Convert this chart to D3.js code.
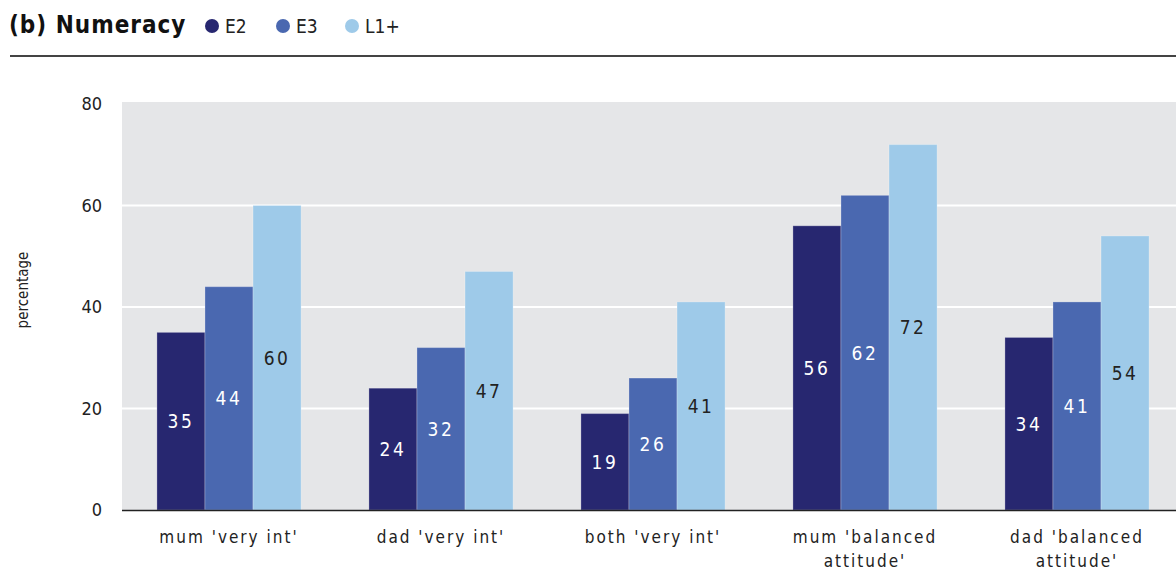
<!DOCTYPE html>
<html>
<head>
<meta charset="utf-8">
<script src="https://cdn.jsdelivr.net/npm/d3@7"></script>
<style>
  body { margin: 0; background: #fff; }
  svg text { font-family: "DejaVu Sans Condensed", "DejaVu Sans", sans-serif; }
</style>
</head>
<body>
<svg id="chart" width="1176" height="572"></svg>
<script>
// data
const categories = [
  ["mum 'very int'"],
  ["dad 'very int'"],
  ["both 'very int'"],
  ["mum 'balanced", "attitude'"],
  ["dad 'balanced", "attitude'"]
];
const seriesNames = ["E2", "E3", "L1+"];
const e2Values = [35, 24, 19, 56, 34];
const e3Values = [44, 32, 26, 62, 41];
const l1Values = [60, 47, 41, 72, 54];
const yTicks = [0, 20, 40, 60, 80];

const colors = {
  E2: "#272770",
  E3: "#4a68b0",
  "L1+": "#9ecae9",
  plotBg: "#e5e6e8",
  grid: "#ffffff",
  text: "#222222"
};

const svg = d3.select("#chart");
const width = 1176;
const plotLeft = 122, plotTop = 102, baseY = 510;

const series = [e2Values, e3Values, l1Values];
const rows = categories.map((c, i) => ({
  key: i,
  label: c,
  values: seriesNames.map((s, j) => ({ series: s, value: series[j][i] }))
}));

const x0 = d3.scaleBand()
  .domain(rows.map(d => d.key))
  .range([123, 1183])
  .paddingInner(0.32)
  .paddingOuter(0.16);

const x1 = d3.scaleBand()
  .domain(seriesNames)
  .range([0, x0.bandwidth()]);

const y = d3.scaleLinear().domain([0, 80]).range([baseY, 104]);

// plot background
svg.append("rect")
  .attr("x", plotLeft).attr("y", plotTop)
  .attr("width", width - plotLeft).attr("height", baseY - plotTop)
  .attr("fill", colors.plotBg);

// gridlines
svg.append("g").selectAll("line")
  .data(yTicks.filter(t => t > 0 && t < 80))
  .enter().append("line")
  .attr("x1", plotLeft).attr("x2", width)
  .attr("y1", d => y(d)).attr("y2", d => y(d))
  .attr("stroke", colors.grid).attr("stroke-width", 2);

// y axis labels
const yAxis = d3.axisLeft(y).tickValues(yTicks).tickSize(0).tickPadding(0);
const yg = svg.append("g").attr("transform", "translate(102,0)").call(yAxis);
yg.select(".domain").remove();
yg.selectAll("text")
  .attr("font-size", 18).attr("fill", colors.text)
  .style("font-family", "'DejaVu Sans Condensed', sans-serif");

svg.append("text")
  .attr("transform", "translate(28,290) rotate(-90)")
  .attr("text-anchor", "middle")
  .attr("font-size", 15).attr("fill", colors.text)
  .text("percentage");

// bars
const groups = svg.append("g").selectAll("g")
  .data(rows)
  .enter().append("g")
  .attr("transform", d => `translate(${x0(d.key)},0)`);

groups.selectAll("rect")
  .data(d => d.values)
  .enter().append("rect")
  .attr("x", d => x1(d.series))
  .attr("y", d => y(d.value))
  .attr("width", x1.bandwidth())
  .attr("height", d => baseY - y(d.value))
  .attr("fill", d => colors[d.series])
  .attr("stroke", "#ffffff").attr("stroke-opacity", 0.25).attr("stroke-width", 1);

groups.selectAll("text.val")
  .data(d => d.values)
  .enter().append("text")
  .attr("class", "val")
  .attr("x", d => x1(d.series) + x1.bandwidth() / 2)
  .attr("y", d => (y(d.value) + baseY) / 2 + 7)
  .attr("text-anchor", "middle")
  .attr("font-size", 19)
  .attr("letter-spacing", 2.5)
  .attr("fill", d => d.series === "L1+" ? colors.text : "#ffffff")
  .text(d => d.value);

// baseline
svg.append("line")
  .attr("x1", plotLeft).attr("x2", width)
  .attr("y1", baseY + 0.5).attr("y2", baseY + 0.5)
  .attr("stroke", "#222").attr("stroke-width", 1.5);

// category labels
const xAxis = svg.append("g");
rows.forEach(d => {
  const t = xAxis.append("text")
    .attr("x", x0(d.key) + x0.bandwidth() / 2)
    .attr("y", 543)
    .attr("text-anchor", "middle")
    .attr("font-size", 17).attr("letter-spacing", 2)
    .attr("fill", colors.text);
  d.label.forEach((line, i) => {
    t.append("tspan")
      .attr("x", x0(d.key) + x0.bandwidth() / 2)
      .attr("dy", i === 0 ? 0 : 24)
      .text(line);
  });
});

// title and legend
svg.append("text")
  .attr("x", 9).attr("y", 33)
  .attr("font-size", 24).attr("font-weight", "bold")
  .attr("letter-spacing", 1)
  .attr("fill", "#111")
  .text("(b) Numeracy");

const legendX = [212, 283, 352];
const legend = svg.append("g").selectAll("g")
  .data(seriesNames)
  .enter().append("g")
  .attr("transform", (d, i) => `translate(${legendX[i]},26)`);
legend.append("circle").attr("r", 7).attr("fill", d => colors[d]);
legend.append("text")
  .attr("x", 13).attr("y", 7)
  .attr("font-size", 19).attr("fill", colors.text)
  .text(d => d);

svg.append("line")
  .attr("x1", 10).attr("x2", width)
  .attr("y1", 56).attr("y2", 56)
  .attr("stroke", "#444").attr("stroke-width", 2);
</script>
</body>
</html>
